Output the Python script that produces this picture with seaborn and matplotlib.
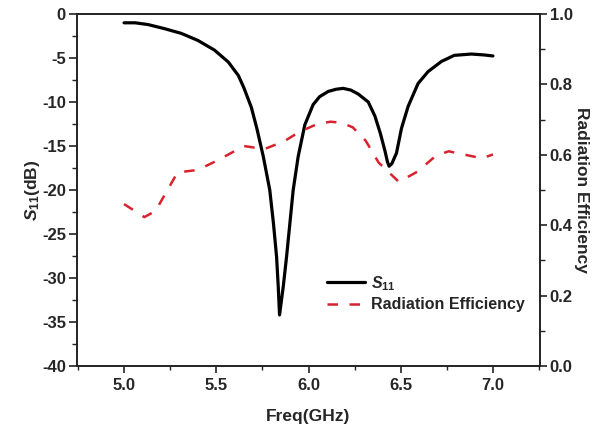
import matplotlib
matplotlib.use("Agg")
import matplotlib.pyplot as plt
import seaborn as sns
import pandas as pd
from matplotlib.ticker import MultipleLocator

# ---- data ----
s11_freq = [5.00, 5.06, 5.13, 5.22, 5.31, 5.40, 5.49, 5.565, 5.62, 5.65, 5.69,
            5.72, 5.755, 5.79, 5.81, 5.827, 5.836, 5.843, 5.863, 5.881, 5.899,
            5.917, 5.944, 5.98, 6.025, 6.06, 6.107, 6.15, 6.188, 6.23, 6.27,
            6.324, 6.36, 6.39, 6.415, 6.428, 6.437, 6.452, 6.477, 6.504, 6.54,
            6.594, 6.648, 6.72, 6.79, 6.883, 6.956, 7.00]
s11_db = [-1.0, -1.0, -1.2, -1.67, -2.2, -3.0, -4.1, -5.45, -7.0, -8.4, -10.6,
          -13.0, -16.2, -20.0, -23.8, -27.6, -31.0, -34.2, -31.0, -27.6, -23.8,
          -20.0, -16.2, -12.6, -10.3, -9.4, -8.8, -8.55, -8.45, -8.65, -9.1,
          -10.0, -11.6, -13.6, -15.6, -16.8, -17.3, -17.0, -15.8, -13.0, -10.5,
          -7.9, -6.55, -5.4, -4.7, -4.55, -4.66, -4.77]

eff_freq = [5.00, 5.11, 5.17, 5.29, 5.40, 5.51, 5.65, 5.76, 5.87, 5.95, 6.05,
            6.12, 6.18, 6.24, 6.31, 6.38, 6.49, 6.59, 6.69, 6.76, 6.85, 6.94, 7.00]
eff_val = [0.46, 0.423, 0.44, 0.55, 0.557, 0.585, 0.625, 0.616, 0.639, 0.665, 0.688,
           0.694, 0.691, 0.678, 0.64, 0.578, 0.523, 0.552, 0.597, 0.610, 0.600, 0.590, 0.601]

x_ticks = [5.0, 5.5, 6.0, 6.5, 7.0]
y_left_ticks = [0, -5, -10, -15, -20, -25, -30, -35, -40]
y_right_ticks = [0.0, 0.2, 0.4, 0.6, 0.8, 1.0]

s11_df = pd.DataFrame({"Freq": s11_freq, "S11": s11_db})
eff_df = pd.DataFrame({"Freq": eff_freq, "Eff": eff_val})

sns.set_theme(style="ticks")
plt.rcParams["font.family"] = ["Liberation Sans", "DejaVu Sans"]
plt.rcParams["font.weight"] = "bold"
plt.rcParams["mathtext.fontset"] = "custom"
plt.rcParams["mathtext.rm"] = "Liberation Sans:bold"
plt.rcParams["mathtext.it"] = "Liberation Sans:bold:italic"
plt.rcParams["mathtext.bf"] = "Liberation Sans:bold"

fig = plt.figure(figsize=(6.01, 4.30), dpi=100)
ax = fig.add_axes([77 / 601, 64 / 430, 463 / 601, 352 / 430])
ax2 = ax.twinx()

red = "#d8232f"
sns.lineplot(data=s11_df, x="Freq", y="S11", ax=ax, color="black", lw=2.3,
             label=r"$\mathit{S}_{11}$", legend=False)
sns.lineplot(data=eff_df, x="Freq", y="Eff", ax=ax2, color=red, lw=1.8,
             label="Radiation Efficiency", legend=False)
ax2.lines[0].set_dashes((4.2, 4.6))
for ln in ax.lines + ax2.lines:
    ln.set_solid_joinstyle("round")
    ln.set_solid_capstyle("round")

ax.set_xlim(4.745, 7.255)
ax.set_ylim(-40, 0)
ax2.set_ylim(0, 1.0)

tick_fs = 12
ax.set_xticks(x_ticks)
ax.set_xticklabels([f"{v:.1f}" for v in x_ticks])
ax.set_yticks(y_left_ticks)
ax.set_yticklabels([f"{v}" for v in y_left_ticks])
ax2.set_yticks(y_right_ticks)
ax2.set_yticklabels([f"{v:.1f}" for v in y_right_ticks])
ax.xaxis.set_minor_locator(MultipleLocator(0.25))
ax.yaxis.set_minor_locator(MultipleLocator(2.5))
ax2.yaxis.set_minor_locator(MultipleLocator(0.1))

for a in (ax, ax2):
    for sp in a.spines.values():
        sp.set_linewidth(1.2)
        sp.set_color("#222222")
    a.tick_params(which="major", length=6, width=1.2, color="#222222",
                  labelsize=tick_fs, pad=2)
    a.tick_params(which="minor", length=3.5, width=1.0, color="#222222")
ax.tick_params(axis="x", which="major", length=5, pad=4)
ax.tick_params(axis="x", which="minor", length=3)
ax2.tick_params(axis="y", which="major", length=5, pad=2)

ax.set_xlabel("Freq(GHz)", fontsize=12.5, fontweight="bold", labelpad=11)
ax.set_ylabel(r"$\mathit{S}_{11}$(dB)", fontsize=12.5, fontweight="bold", labelpad=0)
ax2.set_ylabel("Radiation Efficiency", fontsize=12.5, fontweight="bold",
               rotation=270, labelpad=12)

for lbl in ax.get_xticklabels() + ax.get_yticklabels() + ax2.get_yticklabels():
    lbl.set_fontweight("bold")

h1, l1 = ax.get_legend_handles_labels()
h2, l2 = ax2.get_legend_handles_labels()
leg = ax.legend(h1 + h2, l1 + l2, loc="upper left",
                bbox_to_anchor=(327 / 601, 1 - 274 / 430),
                bbox_transform=fig.transFigure, frameon=False, fontsize=11.5,
                handlelength=2.4, handletextpad=0.35, borderpad=0,
                borderaxespad=0, labelspacing=0.3)
for t in leg.get_texts():
    t.set_fontweight("bold")

fig.savefig("out.png", dpi=100)
